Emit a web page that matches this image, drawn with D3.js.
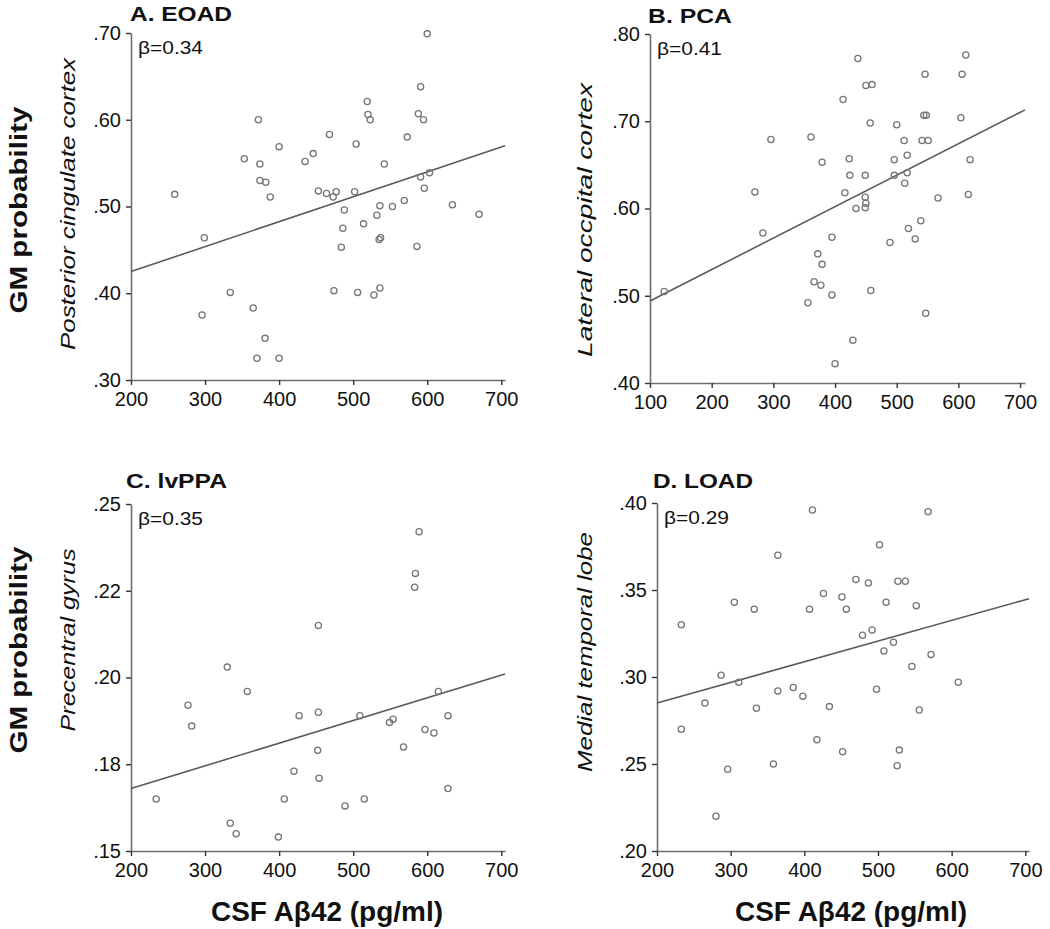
<!DOCTYPE html>
<html><head><meta charset="utf-8">
<script src="https://cdn.jsdelivr.net/npm/d3@7"></script>
<style>body{margin:0;background:#fff}svg{display:block}text{font-family:"Liberation Sans",Arial,sans-serif;fill:#111}</style>
</head><body><svg id="c" width="1050" height="929"></svg>
<script>
// ---- data ----
const panelTitles = ["A. EOAD", "B. PCA", "C. lvPPA", "D. LOAD"];
const betaLabels = ["β=0.34", "β=0.41", "β=0.35", "β=0.29"];
const regionLabels = ["Posterior cingulate  cortex", "Lateral  occpital  cortex", "Precentral gyrus", "Medial  temporal lobe"];
const yAxisTitle = "GM probability";
const xAxisTitle = "CSF Aβ42 (pg/ml)";

const xTicksA = [200, 300, 400, 500, 600, 700];
const xTicksB = [100, 200, 300, 400, 500, 600, 700];
const yTicksA = [0.30, 0.40, 0.50, 0.60, 0.70];
const yTickLabelsA = [".30", ".40", ".50", ".60", ".70"];
const yTicksB = [0.40, 0.50, 0.60, 0.70, 0.80];
const yTickLabelsB = [".40", ".50", ".60", ".70", ".80"];
const yTicksC = [0.15, 0.175, 0.20, 0.225, 0.25];
const yTickLabelsC = [".15", ".18", ".20", ".22", ".25"];
const yTicksD = [0.20, 0.25, 0.30, 0.35, 0.40];
const yTickLabelsD = [".20", ".25", ".30", ".35", ".40"];

const eoadX = [259,299,372,400,353,374,435,446,374,382,388,453,334,365,296,381,370,400,600,591,519,520,523,588,595,468,573,504,542,603,591,596,464,473,477,502,569,536,553,634,488,532,670,514,486,537,535,484,586,474,506,536,528];
const eoadY = [.514,.464,.600,.569,.555,.549,.552,.561,.530,.528,.511,.518,.401,.383,.375,.348,.325,.325,.699,.638,.621,.606,.600,.607,.600,.583,.580,.572,.549,.539,.534,.521,.515,.511,.517,.517,.507,.501,.500,.502,.496,.490,.491,.480,.475,.464,.462,.453,.454,.403,.401,.406,.398];
const pcaX = [123,296,361,379,270,283,372,379,366,377,356,437,612,546,606,450,460,413,544,548,604,457,500,512,541,551,517,496,619,423,424,449,496,517,513,416,567,616,449,450,449,434,539,519,530,395,489,395,458,547,429,400];
const pcaY = [.505,.679,.682,.653,.619,.572,.548,.536,.516,.512,.492,.772,.776,.754,.754,.741,.742,.725,.707,.707,.704,.698,.696,.678,.678,.678,.661,.656,.656,.657,.638,.638,.638,.641,.629,.618,.612,.616,.613,.606,.601,.600,.586,.577,.565,.567,.561,.501,.506,.480,.449,.422];
const lvppaX = [234,330,357,277,282,453,427,453,452,420,454,407,334,342,399,589,584,583,615,509,554,549,628,597,609,568,628,489,515];
const lvppaY = [.165,.203,.196,.192,.186,.215,.189,.190,.179,.173,.171,.165,.158,.155,.154,.242,.230,.226,.196,.189,.188,.187,.189,.185,.184,.180,.168,.163,.165];
const loadX = [411,364,426,305,332,407,233,287,311,364,385,398,265,335,434,233,417,296,358,280,568,502,470,487,527,537,451,457,511,552,492,479,521,508,572,546,609,498,556,452,529,526];
const loadY = [.396,.370,.348,.343,.339,.339,.330,.301,.297,.292,.294,.289,.285,.282,.283,.270,.264,.247,.250,.220,.395,.376,.356,.354,.355,.355,.346,.339,.343,.341,.327,.324,.320,.315,.313,.306,.297,.293,.281,.257,.258,.249];

// fit lines: [x0, y0, x1, y1]
const fitA = [200, .425, 705, .570];
const fitB = [100, .494, 708, .713];
const fitC = [200, .168, 705, .201];
const fitD = [200, .285, 705, .345];

// ---- layout ----
const panels = [
  {title: panelTitles[0], beta: betaLabels[0], region: regionLabels[0], xs: eoadX, ys: eoadY, fit: fitA,
   xDom: [200, 705], xRange: [131, 505], xTicks: xTicksA, yDom: [0.30, 0.70], yRange: [380, 33], yTicks: yTicksA, yLabels: yTickLabelsA,
   titleX: 130, titleY: 21, titleW: 102, regX: 75, regY: 204, regW: 292},
  {title: panelTitles[1], beta: betaLabels[1], region: regionLabels[1], xs: pcaX, ys: pcaY, fit: fitB,
   xDom: [100, 708], xRange: [650, 1025], xTicks: xTicksB, yDom: [0.40, 0.80], yRange: [383, 34], yTicks: yTicksB, yLabels: yTickLabelsB,
   titleX: 648, titleY: 23, titleW: 84, regX: 592, regY: 220, regW: 274},
  {title: panelTitles[2], beta: betaLabels[2], region: regionLabels[2], xs: lvppaX, ys: lvppaY, fit: fitC,
   xDom: [200, 705], xRange: [131, 505], xTicks: xTicksA, yDom: [0.15, 0.25], yRange: [851, 504], yTicks: yTicksC, yLabels: yTickLabelsC,
   titleX: 126, titleY: 488, titleW: 101, regX: 75, regY: 640, regW: 183},
  {title: panelTitles[3], beta: betaLabels[3], region: regionLabels[3], xs: loadX, ys: loadY, fit: fitD,
   xDom: [200, 705], xRange: [657, 1029], xTicks: xTicksA, yDom: [0.20, 0.40], yRange: [851, 503], yTicks: yTicksD, yLabels: yTickLabelsD,
   titleX: 653, titleY: 488, titleW: 100, regX: 592, regY: 652, regW: 240}
];

const svg = d3.select("#c");
const axisColor = "#6e6e6e";

panels.forEach((p, i) => {
  const x = d3.scaleLinear().domain(p.xDom).range(p.xRange);
  const y = d3.scaleLinear().domain(p.yDom).range(p.yRange);
  const g = svg.append("g");

  // x axis
  const xa = g.append("g").attr("transform", `translate(0,${p.yRange[0]})`)
    .call(d3.axisBottom(x).tickValues(p.xTicks).tickFormat(d3.format("d")).tickSizeInner(5).tickSizeOuter(0).tickPadding(7));
  // y axis
  const ya = g.append("g").attr("transform", `translate(${p.xRange[0]},0)`)
    .call(d3.axisLeft(y).tickValues(p.yTicks).tickFormat((d, k) => p.yLabels[k]).tickSizeInner(5).tickSizeOuter(0).tickPadding(5));
  [xa, ya].forEach(a => {
    a.select(".domain").attr("stroke", axisColor).attr("stroke-width", 1.6);
    a.selectAll(".tick line").attr("stroke", "#333").attr("stroke-width", 1.4);
    a.selectAll(".tick text").attr("font-size", 20).attr("fill", "#111").style("font-family", '"Liberation Sans",Arial,sans-serif');
  });

  // fit line
  g.append("line")
    .attr("x1", x(p.fit[0])).attr("y1", y(p.fit[1]))
    .attr("x2", x(p.fit[2])).attr("y2", y(p.fit[3]))
    .attr("stroke", "#5a5a5a").attr("stroke-width", 1.6);

  // points
  g.selectAll("circle.pt").data(p.xs.map((v, k) => [v, p.ys[k]])).enter()
    .append("circle").attr("class", "pt")
    .attr("cx", d => x(d[0])).attr("cy", d => y(d[1])).attr("r", 3.1)
    .attr("fill", "none").attr("stroke", "#777").attr("stroke-width", 1.3);

  // title
  g.append("text").attr("x", p.titleX).attr("y", p.titleY)
    .attr("font-size", 20).attr("font-weight", "bold")
    .attr("textLength", p.titleW).attr("lengthAdjust", "spacingAndGlyphs").text(p.title);
  // beta
  g.append("text").attr("x", p.xRange[0] + 7).attr("y", p.yRange[1] + 21)
    .attr("font-size", 19).attr("textLength", 65).attr("lengthAdjust", "spacingAndGlyphs").text(p.beta);
  // region label (italic, rotated)
  g.append("text").attr("transform", `translate(${p.regX},${p.regY}) rotate(-90)`)
    .attr("text-anchor", "middle").attr("font-size", 21).attr("font-style", "italic")
    .attr("textLength", p.regW).attr("lengthAdjust", "spacingAndGlyphs").text(p.region);
});

// shared labels
[210, 650].forEach(cy => {
  svg.append("text").attr("transform", `translate(27,${cy}) rotate(-90)`)
    .attr("text-anchor", "middle").attr("font-size", 24).attr("font-weight", "bold")
    .attr("textLength", 207).attr("lengthAdjust", "spacingAndGlyphs").text(yAxisTitle);
});
[327, 851].forEach(cx => {
  svg.append("text").attr("x", cx).attr("y", 921)
    .attr("text-anchor", "middle").attr("font-size", 27).attr("font-weight", "bold")
    .attr("textLength", 232).attr("lengthAdjust", "spacingAndGlyphs").text(xAxisTitle);
});
</script></body></html>
